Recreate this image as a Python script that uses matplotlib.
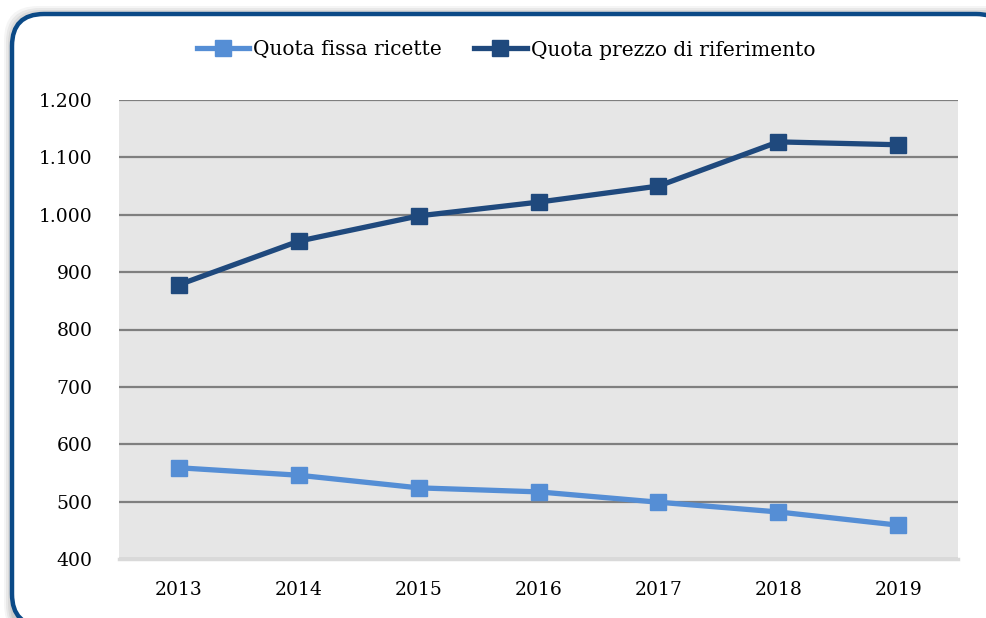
import matplotlib.pyplot as plt
from matplotlib.patches import FancyBboxPatch

anni = ['2013', '2014', '2015', '2016', '2017', '2018', '2019']
quota_fissa = [559, 546, 524, 517, 499, 482, 459]
quota_prezzo = [878, 954, 998, 1022, 1050, 1127, 1122]
yticks = [400, 500, 600, 700, 800, 900, 1000, 1100, 1200]

plt.rcParams['font.family'] = ['DejaVu Serif']

W, H = 986, 618
fig = plt.figure(figsize=(W / 100, H / 100), dpi=100)

# cornice arrotondata con ombra
for i, a in enumerate([0.04, 0.05, 0.06, 0.07]):
    d = 8 - 2 * i
    sh = FancyBboxPatch((12 - d, -20), W + 40, H - 14 + 20 + d,
                        boxstyle='round,pad=0,rounding_size=34',
                        transform=None, facecolor='black', edgecolor='none',
                        alpha=a, zorder=0)
    fig.patches.append(sh)
box = FancyBboxPatch((12, -8), W + 10, H - 14 + 8,
                     boxstyle='round,pad=0,rounding_size=32',
                     transform=None, facecolor='white', edgecolor='#0b4a87',
                     linewidth=3.2, zorder=1)
fig.patches.append(box)

ax = fig.add_axes([119 / W, 59 / H, (958 - 119) / W, (559 - 100) / H])
ax.set_zorder(2)
ax.set_facecolor('#e6e6e6')

x = range(len(anni))
ax.plot(x, quota_fissa, color='#558ed5', lw=3.8, marker='s', ms=11,
        label='Quota fissa ricette', zorder=3)
ax.plot(x, quota_prezzo, color='#1f497d', lw=3.8, marker='s', ms=11,
        label='Quota prezzo di riferimento', zorder=3)

ax.set_xlim(-0.5, len(anni) - 0.5)
ax.set_ylim(400, 1200)
ax.set_xticks(list(x))
ax.set_xticklabels(anni)
ax.set_yticks(yticks)
ax.set_yticklabels([f'{v:,}'.replace(',', '.') for v in yticks])
ax.yaxis.grid(True, color='#7f7f7f', lw=1.6)
ax.set_axisbelow(True)
for s in ['top', 'left', 'right']:
    ax.spines[s].set_visible(False)
ax.spines['bottom'].set_color('#d9d9d9')
ax.spines['bottom'].set_linewidth(2.5)
ax.tick_params(length=0, labelsize=13.5)
ax.tick_params(axis='y', pad=19)
ax.tick_params(axis='x', pad=16)

leg = fig.legend(loc='center', bbox_to_anchor=(506 / W, 1 - 50 / H), ncol=2,
                 frameon=False, fontsize=14.5, handlelength=2.6,
                 handletextpad=0.2, columnspacing=1.6)
leg.set_zorder(3)

fig.savefig('out.png', dpi=100)
